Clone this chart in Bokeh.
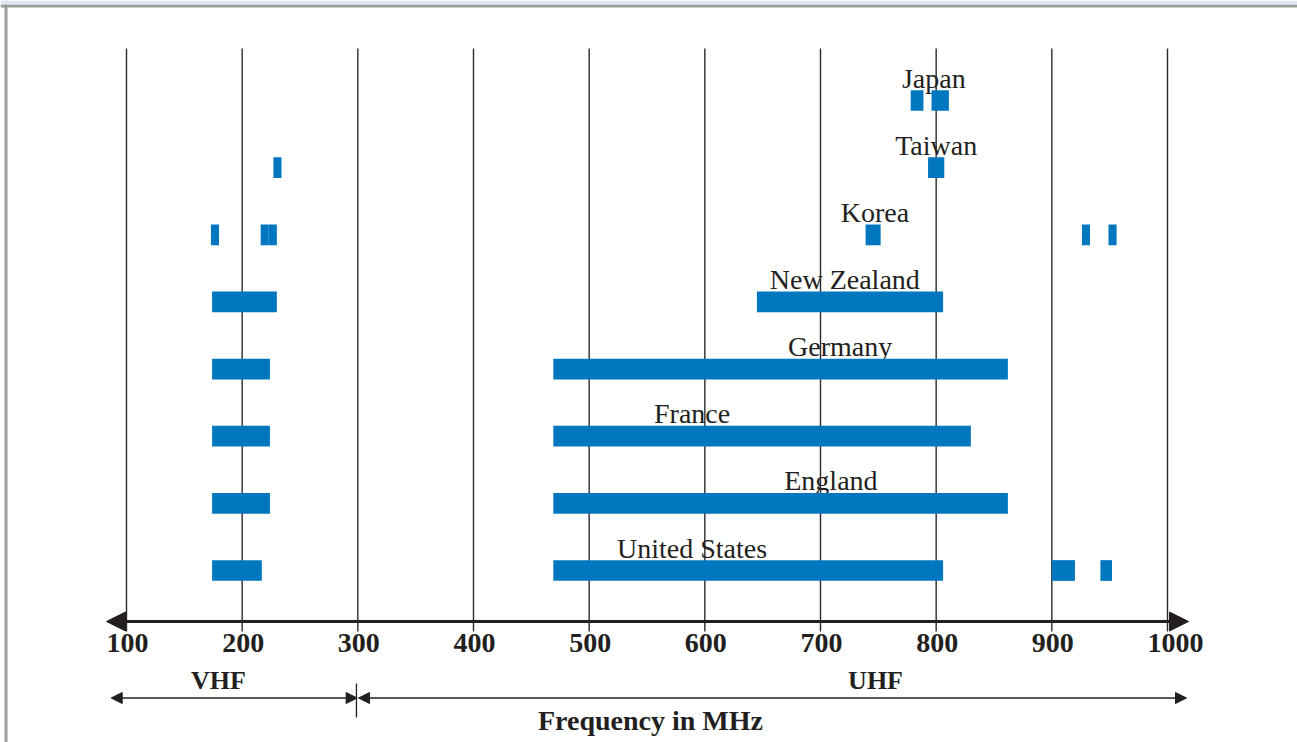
from bokeh.plotting import figure
from bokeh.models import Range1d, Arrow, NormalHead, ColumnDataSource, BoxAnnotation
from bokeh.embed import file_html
from bokeh.resources import INLINE
from bokeh.core.properties import value

# ---------------- data ----------------
countries = ["United States", "England", "France", "Germany",
             "New Zealand", "Korea", "Taiwan", "Japan"]

band_country = ["United States", "United States", "United States", "United States",
                "England", "England",
                "France", "France",
                "Germany", "Germany",
                "New Zealand", "New Zealand",
                "Korea", "Korea", "Korea", "Korea", "Korea", "Korea",
                "Taiwan", "Taiwan",
                "Japan", "Japan"]
band_start = [174, 469, 900, 942,
              174, 469,
              174, 469,
              174, 469,
              174, 645,
              173, 216, 223, 739, 926, 949,
              227, 793,
              778, 796]
band_end = [217, 806, 920, 952,
            224, 862,
            224, 830,
            224, 862,
            230, 806,
            180, 223, 230, 752, 933, 956,
            234, 807,
            789, 811]

tick_values = [100, 200, 300, 400, 500, 600, 700, 800, 900, 1000]
tick_labels = ["100", "200", "300", "400", "500", "600", "700", "800", "900", "1000"]

band_names = ["VHF", "UHF"]
band_limits = [(100, 300), (300, 1000)]
x_title = "Frequency in MHz"

# ---------------- layout helpers ----------------
W, H = 1297, 742
PX_PER_MHZ = 1041 / 900.0      # px per MHz
X0_SCREEN = 126                # 100 MHz at this px
ROW_PX = 67.14
US_ROW_SCREEN = 570


def X(sx):  # px -> MHz
    return 100 + (sx - X0_SCREEN) / PX_PER_MHZ


def Y(sy):  # px -> row units
    return (US_ROW_SCREEN - sy) / ROW_PX


def TB(sy, size):  # wanted text baseline px -> row units (svg baseline correction)
    return Y(sy - 0.36 * size)


BAR_H = 20.7 / ROW_PX
BLUE = "#0077BF"
INK = "#231F20"
SERIF = "Liberation Serif"

p = figure(width=W, height=H, output_backend="svg", toolbar_location=None,
           x_axis_type=None, y_axis_type=None,
           x_range=Range1d(X(0), X(W)), y_range=Range1d(Y(H), Y(0)),
           min_border=0, outline_line_color=None, background_fill_color="white",
           border_fill_color="white")

# page frame (light band, grey lines)
p.add_layout(BoxAnnotation(top=Y(0), bottom=Y(4), fill_color="#dfe6f2", fill_alpha=1,
                           line_color=None))
p.segment(x0=[X(0)], y0=[Y(5.5)], x1=[X(W)], y1=[Y(5.5)], line_color="#9c9c9c", line_width=3)
p.segment(x0=[X(5.5)], y0=[Y(0)], x1=[X(5.5)], y1=[Y(H)], line_color="#9c9c9c", line_width=3)

# vertical grid lines
p.segment(x0=tick_values, y0=[Y(631)] * len(tick_values),
          x1=tick_values, y1=[Y(48)] * len(tick_values),
          line_color="#2a2a2a", line_width=1.4)

# country labels (drawn before bars so bars cover descenders)
LBL = 28
label_x = [589, 709, 589, 717, 721, 747, 800, 798]
label_y = [countries.index(c) + BAR_H / 2 + (2 + 0.36 * LBL) / ROW_PX for c in countries]
p.text(x=label_x, y=label_y, text=countries, text_align="center",
       text_baseline="alphabetic", text_font=value(SERIF),
       text_font_size=f"{LBL}px", text_color=INK)

# bars
src = ColumnDataSource(dict(
    left=band_start, right=band_end,
    y=[countries.index(c) for c in band_country]))
p.hbar(y="y", left="left", right="right", height=BAR_H, source=src,
       fill_color=BLUE, line_color=None)

# main axis with arrow heads
ax_y = Y(621)
p.add_layout(Arrow(x_start=X(106), y_start=ax_y, x_end=X(1188), y_end=ax_y,
                   line_width=3, line_color=INK,
                   start=NormalHead(size=19, fill_color=INK, line_color=INK, line_width=1),
                   end=NormalHead(size=19, fill_color=INK, line_color=INK, line_width=1)))

# tick labels
TK = 28
tick_dx = [1, 1, 1, 1, 1, 1, 1, 1, 1, 8]
tsrc = ColumnDataSource(dict(x=tick_values, y=[TB(653, TK)] * len(tick_values),
                             text=tick_labels, dx=tick_dx))
p.text(x="x", y="y", text="text", x_offset="dx", source=tsrc,
       text_align="center", text_baseline="alphabetic",
       text_font=value(SERIF), text_font_style="bold",
       text_font_size=f"{TK}px", text_color=INK)

# VHF / UHF brackets
br_y = Y(697.5)
gap = 0.6
for (a, b), name in zip(band_limits, band_names):
    xs = X(110.7) if a == 100 else a + gap
    xe = b - gap if b == 300 else X(1186)
    p.add_layout(Arrow(x_start=xs, y_start=br_y, x_end=xe, y_end=br_y,
                       line_width=1.5, line_color=INK,
                       start=NormalHead(size=11, fill_color=INK, line_color=INK, line_width=1),
                       end=NormalHead(size=11, fill_color=INK, line_color=INK, line_width=1)))
p.segment(x0=[band_limits[0][1] - 1.2], y0=[Y(683)], x1=[band_limits[0][1] - 1.2], y1=[Y(717)],
          line_color=INK, line_width=1.3)

BN = 26
band_label_x = [179.5, 747.6]
p.text(x=band_label_x, y=[TB(689.3, BN)] * 2, text=band_names,
       text_align="center", text_baseline="alphabetic",
       text_font=value(SERIF), text_font_style="bold",
       text_font_size=f"{BN}px", text_color=INK)

FT = 28
p.text(x=[553], y=[TB(730.5, FT)], text=[x_title],
       text_align="center", text_baseline="alphabetic",
       text_font=value(SERIF), text_font_style="bold",
       text_font_size=f"{FT}px", text_color=INK)

open("out.html", "w").write(file_html(p, INLINE))
